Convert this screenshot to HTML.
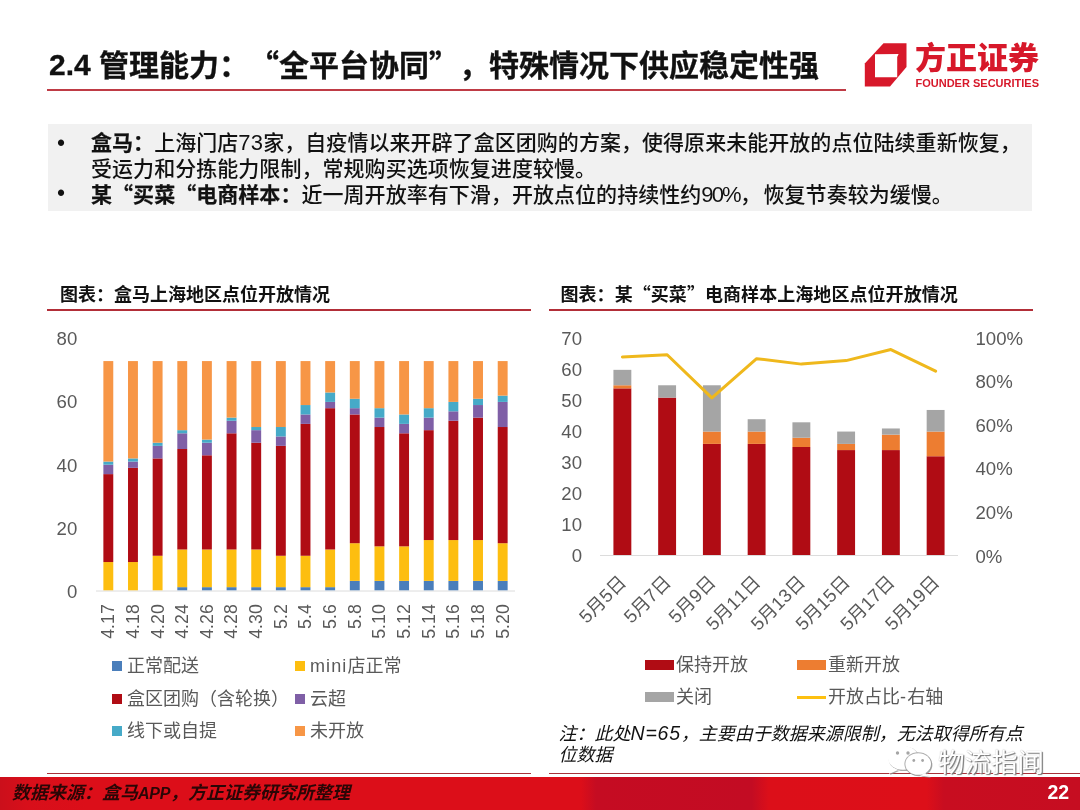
<!DOCTYPE html>
<html lang="zh-CN"><head><meta charset="utf-8"><title>2.4 管理能力</title>
<style>
html,body{margin:0;padding:0;}
body{text-spacing-trim:space-all;font-kerning:none;width:1080px;height:810px;position:relative;overflow:hidden;background:#fff;font-family:"Liberation Sans","Noto Sans CJK SC",sans-serif;color:#000;}
.abs{position:absolute;white-space:nowrap;}
.cjk{font-family:"Noto Sans CJK SC",sans-serif;display:inline-block;}
#title{left:49px;top:43px;font-size:30px;font-weight:bold;line-height:40px;color:#111;-webkit-text-stroke:0.3px #111;}
#tline{left:47px;top:89.2px;width:799.3px;height:2px;background:#bf3b45;}
#box{left:47.6px;top:124px;width:984.9px;height:86.8px;background:#f1f1f1;}
.bl{font-size:21px;line-height:25.5px;color:#111;letter-spacing:0.045px;font-weight:500;}
.bl b{font-weight:bold;-webkit-text-stroke:0.25px #111;}
.ct{font-size:18px;font-weight:bold;line-height:24px;color:#111;}
.cl{height:1.8px;background:#b22e38;}
.lg{font-size:18px;line-height:24px;color:#595959;}
.sw{position:absolute;}
svg text{font-family:"Liberation Sans","Noto Sans CJK SC",sans-serif;}
</style></head><body>
<div class="abs" id="title"><span style="position:relative;top:-1px">2.4 </span>管理能力：<span class="cjk">“</span>全平台协同<span class="cjk">”</span>，特殊情况下供应稳定性强</div>
<div class="abs" id="tline"></div>

<!-- logo -->
<svg class="abs" style="left:860px;top:38px" width="190" height="56" viewBox="860 38 190 56">
<polygon points="883.5,43.3 906.5,43.3 906.5,67 890,86.5 864.8,86.5 864.8,63.5" fill="#d7182a"/>
<polygon points="875,54.2 898.6,53.9 897.2,57 897.2,77.3 875,77.3" fill="#fff"/>
<text x="915" y="69.2" font-size="30.6" font-weight="900" fill="#d7182a" textLength="124" lengthAdjust="spacingAndGlyphs" style="font-family:'Noto Sans CJK SC',sans-serif">方正证券</text>
<text x="915.5" y="86.6" font-size="11" font-weight="bold" fill="#d7182a" textLength="123.5" lengthAdjust="spacingAndGlyphs">FOUNDER SECURITIES</text>
</svg>

<div class="abs" id="box"></div>
<div class="abs bl" style="left:56.9px;top:130.7px;font-size:23px;font-weight:400">•</div>
<div class="abs bl" style="left:91px;top:130px"><b>盒马：</b>上海门店<span style="font-size:22px;line-height:10px;letter-spacing:0.2px">73</span>家，自疫情以来开辟了盒区团购的方案，使得原来未能开放的点位陆续重新恢复，<br>受运力和分拣能力限制，常规购买选项恢复进度较慢。</div>
<div class="abs bl" style="left:56.9px;top:181.2px;font-size:23px;font-weight:400">•</div>
<div class="abs bl" style="left:91px;top:180.8px"><b>某<span class="cjk">“</span>买菜<span class="cjk">“</span>电商样本：</b>近一周开放率有下滑，开放点位的持续性约<span style="font-size:22px;line-height:10px;letter-spacing:-1.9px">90%</span><span style="margin-left:0.4px;margin-right:2.4px">，</span>恢复节奏较为缓慢。</div>

<div class="abs ct" style="left:60px;top:283.2px">图表：盒马上海地区点位开放情况</div>
<div class="abs cl" style="left:47px;top:309px;width:484px"></div>
<div class="abs ct" style="left:560.5px;top:281.2px;letter-spacing:0.06px">图表：某<span class="cjk">“</span>买菜<span class="cjk">”</span>电商样本上海地区点位开放情况</div>
<div class="abs cl" style="left:548.6px;top:309px;width:484.6px"></div>

<svg class="abs" style="left:0;top:320px" width="1080" height="340" viewBox="0 320 1080 340">
<line x1="96.0" y1="591.0" x2="515.0" y2="591.0" stroke="#dcdcdc" stroke-width="1"/>
<rect x="103.37" y="562.04" width="9.9" height="28.26" fill="#fdbe10"/>
<rect x="103.37" y="474.12" width="9.9" height="87.92" fill="#b00c14"/>
<rect x="103.37" y="464.70" width="9.9" height="9.42" fill="#7f5fa6"/>
<rect x="103.37" y="461.56" width="9.9" height="3.14" fill="#46aac8"/>
<rect x="103.37" y="361.08" width="9.9" height="100.48" fill="#f79646"/>
<text transform="translate(114.22,604.2) rotate(-90)" text-anchor="end" font-size="17.8" fill="#595959">4.17</text>
<rect x="128.02" y="562.04" width="9.9" height="28.26" fill="#fdbe10"/>
<rect x="128.02" y="467.84" width="9.9" height="94.20" fill="#b00c14"/>
<rect x="128.02" y="461.56" width="9.9" height="6.28" fill="#7f5fa6"/>
<rect x="128.02" y="458.42" width="9.9" height="3.14" fill="#46aac8"/>
<rect x="128.02" y="361.08" width="9.9" height="97.34" fill="#f79646"/>
<text transform="translate(138.87,604.2) rotate(-90)" text-anchor="end" font-size="17.8" fill="#595959">4.18</text>
<rect x="152.67" y="555.76" width="9.9" height="34.54" fill="#fdbe10"/>
<rect x="152.67" y="458.42" width="9.9" height="97.34" fill="#b00c14"/>
<rect x="152.67" y="445.86" width="9.9" height="12.56" fill="#7f5fa6"/>
<rect x="152.67" y="442.72" width="9.9" height="3.14" fill="#46aac8"/>
<rect x="152.67" y="361.08" width="9.9" height="81.64" fill="#f79646"/>
<text transform="translate(163.52,604.2) rotate(-90)" text-anchor="end" font-size="17.8" fill="#595959">4.20</text>
<rect x="177.31" y="587.16" width="9.9" height="3.14" fill="#4a7ebb"/>
<rect x="177.31" y="549.48" width="9.9" height="37.68" fill="#fdbe10"/>
<rect x="177.31" y="449.00" width="9.9" height="100.48" fill="#b00c14"/>
<rect x="177.31" y="433.30" width="9.9" height="15.70" fill="#7f5fa6"/>
<rect x="177.31" y="430.16" width="9.9" height="3.14" fill="#46aac8"/>
<rect x="177.31" y="361.08" width="9.9" height="69.08" fill="#f79646"/>
<text transform="translate(188.16,604.2) rotate(-90)" text-anchor="end" font-size="17.8" fill="#595959">4.24</text>
<rect x="201.96" y="587.16" width="9.9" height="3.14" fill="#4a7ebb"/>
<rect x="201.96" y="549.48" width="9.9" height="37.68" fill="#fdbe10"/>
<rect x="201.96" y="455.28" width="9.9" height="94.20" fill="#b00c14"/>
<rect x="201.96" y="442.72" width="9.9" height="12.56" fill="#7f5fa6"/>
<rect x="201.96" y="439.58" width="9.9" height="3.14" fill="#46aac8"/>
<rect x="201.96" y="361.08" width="9.9" height="78.50" fill="#f79646"/>
<text transform="translate(212.81,604.2) rotate(-90)" text-anchor="end" font-size="17.8" fill="#595959">4.26</text>
<rect x="226.61" y="587.16" width="9.9" height="3.14" fill="#4a7ebb"/>
<rect x="226.61" y="549.48" width="9.9" height="37.68" fill="#fdbe10"/>
<rect x="226.61" y="433.30" width="9.9" height="116.18" fill="#b00c14"/>
<rect x="226.61" y="420.74" width="9.9" height="12.56" fill="#7f5fa6"/>
<rect x="226.61" y="417.60" width="9.9" height="3.14" fill="#46aac8"/>
<rect x="226.61" y="361.08" width="9.9" height="56.52" fill="#f79646"/>
<text transform="translate(237.46,604.2) rotate(-90)" text-anchor="end" font-size="17.8" fill="#595959">4.28</text>
<rect x="251.26" y="587.16" width="9.9" height="3.14" fill="#4a7ebb"/>
<rect x="251.26" y="549.48" width="9.9" height="37.68" fill="#fdbe10"/>
<rect x="251.26" y="442.72" width="9.9" height="106.76" fill="#b00c14"/>
<rect x="251.26" y="430.16" width="9.9" height="12.56" fill="#7f5fa6"/>
<rect x="251.26" y="427.02" width="9.9" height="3.14" fill="#46aac8"/>
<rect x="251.26" y="361.08" width="9.9" height="65.94" fill="#f79646"/>
<text transform="translate(262.11,604.2) rotate(-90)" text-anchor="end" font-size="17.8" fill="#595959">4.30</text>
<rect x="275.90" y="587.16" width="9.9" height="3.14" fill="#4a7ebb"/>
<rect x="275.90" y="555.76" width="9.9" height="31.40" fill="#fdbe10"/>
<rect x="275.90" y="445.86" width="9.9" height="109.90" fill="#b00c14"/>
<rect x="275.90" y="436.44" width="9.9" height="9.42" fill="#7f5fa6"/>
<rect x="275.90" y="427.02" width="9.9" height="9.42" fill="#46aac8"/>
<rect x="275.90" y="361.08" width="9.9" height="65.94" fill="#f79646"/>
<text transform="translate(286.75,604.2) rotate(-90)" text-anchor="end" font-size="17.8" fill="#595959">5.2</text>
<rect x="300.55" y="587.16" width="9.9" height="3.14" fill="#4a7ebb"/>
<rect x="300.55" y="555.76" width="9.9" height="31.40" fill="#fdbe10"/>
<rect x="300.55" y="423.88" width="9.9" height="131.88" fill="#b00c14"/>
<rect x="300.55" y="414.46" width="9.9" height="9.42" fill="#7f5fa6"/>
<rect x="300.55" y="405.04" width="9.9" height="9.42" fill="#46aac8"/>
<rect x="300.55" y="361.08" width="9.9" height="43.96" fill="#f79646"/>
<text transform="translate(311.40,604.2) rotate(-90)" text-anchor="end" font-size="17.8" fill="#595959">5.4</text>
<rect x="325.20" y="587.16" width="9.9" height="3.14" fill="#4a7ebb"/>
<rect x="325.20" y="549.48" width="9.9" height="37.68" fill="#fdbe10"/>
<rect x="325.20" y="408.18" width="9.9" height="141.30" fill="#b00c14"/>
<rect x="325.20" y="401.90" width="9.9" height="6.28" fill="#7f5fa6"/>
<rect x="325.20" y="392.48" width="9.9" height="9.42" fill="#46aac8"/>
<rect x="325.20" y="361.08" width="9.9" height="31.40" fill="#f79646"/>
<text transform="translate(336.05,604.2) rotate(-90)" text-anchor="end" font-size="17.8" fill="#595959">5.6</text>
<rect x="349.84" y="580.88" width="9.9" height="9.42" fill="#4a7ebb"/>
<rect x="349.84" y="543.20" width="9.9" height="37.68" fill="#fdbe10"/>
<rect x="349.84" y="414.46" width="9.9" height="128.74" fill="#b00c14"/>
<rect x="349.84" y="408.18" width="9.9" height="6.28" fill="#7f5fa6"/>
<rect x="349.84" y="398.76" width="9.9" height="9.42" fill="#46aac8"/>
<rect x="349.84" y="361.08" width="9.9" height="37.68" fill="#f79646"/>
<text transform="translate(360.69,604.2) rotate(-90)" text-anchor="end" font-size="17.8" fill="#595959">5.8</text>
<rect x="374.49" y="580.88" width="9.9" height="9.42" fill="#4a7ebb"/>
<rect x="374.49" y="546.34" width="9.9" height="34.54" fill="#fdbe10"/>
<rect x="374.49" y="427.02" width="9.9" height="119.32" fill="#b00c14"/>
<rect x="374.49" y="417.60" width="9.9" height="9.42" fill="#7f5fa6"/>
<rect x="374.49" y="408.18" width="9.9" height="9.42" fill="#46aac8"/>
<rect x="374.49" y="361.08" width="9.9" height="47.10" fill="#f79646"/>
<text transform="translate(385.34,604.2) rotate(-90)" text-anchor="end" font-size="17.8" fill="#595959">5.10</text>
<rect x="399.14" y="580.88" width="9.9" height="9.42" fill="#4a7ebb"/>
<rect x="399.14" y="546.34" width="9.9" height="34.54" fill="#fdbe10"/>
<rect x="399.14" y="433.30" width="9.9" height="113.04" fill="#b00c14"/>
<rect x="399.14" y="423.88" width="9.9" height="9.42" fill="#7f5fa6"/>
<rect x="399.14" y="414.46" width="9.9" height="9.42" fill="#46aac8"/>
<rect x="399.14" y="361.08" width="9.9" height="53.38" fill="#f79646"/>
<text transform="translate(409.99,604.2) rotate(-90)" text-anchor="end" font-size="17.8" fill="#595959">5.12</text>
<rect x="423.79" y="580.88" width="9.9" height="9.42" fill="#4a7ebb"/>
<rect x="423.79" y="540.06" width="9.9" height="40.82" fill="#fdbe10"/>
<rect x="423.79" y="430.16" width="9.9" height="109.90" fill="#b00c14"/>
<rect x="423.79" y="417.60" width="9.9" height="12.56" fill="#7f5fa6"/>
<rect x="423.79" y="408.18" width="9.9" height="9.42" fill="#46aac8"/>
<rect x="423.79" y="361.08" width="9.9" height="47.10" fill="#f79646"/>
<text transform="translate(434.64,604.2) rotate(-90)" text-anchor="end" font-size="17.8" fill="#595959">5.14</text>
<rect x="448.43" y="580.88" width="9.9" height="9.42" fill="#4a7ebb"/>
<rect x="448.43" y="540.06" width="9.9" height="40.82" fill="#fdbe10"/>
<rect x="448.43" y="420.74" width="9.9" height="119.32" fill="#b00c14"/>
<rect x="448.43" y="411.32" width="9.9" height="9.42" fill="#7f5fa6"/>
<rect x="448.43" y="401.90" width="9.9" height="9.42" fill="#46aac8"/>
<rect x="448.43" y="361.08" width="9.9" height="40.82" fill="#f79646"/>
<text transform="translate(459.28,604.2) rotate(-90)" text-anchor="end" font-size="17.8" fill="#595959">5.16</text>
<rect x="473.08" y="580.88" width="9.9" height="9.42" fill="#4a7ebb"/>
<rect x="473.08" y="540.06" width="9.9" height="40.82" fill="#fdbe10"/>
<rect x="473.08" y="417.60" width="9.9" height="122.46" fill="#b00c14"/>
<rect x="473.08" y="405.04" width="9.9" height="12.56" fill="#7f5fa6"/>
<rect x="473.08" y="398.76" width="9.9" height="6.28" fill="#46aac8"/>
<rect x="473.08" y="361.08" width="9.9" height="37.68" fill="#f79646"/>
<text transform="translate(483.93,604.2) rotate(-90)" text-anchor="end" font-size="17.8" fill="#595959">5.18</text>
<rect x="497.73" y="580.88" width="9.9" height="9.42" fill="#4a7ebb"/>
<rect x="497.73" y="543.20" width="9.9" height="37.68" fill="#fdbe10"/>
<rect x="497.73" y="427.02" width="9.9" height="116.18" fill="#b00c14"/>
<rect x="497.73" y="401.90" width="9.9" height="25.12" fill="#7f5fa6"/>
<rect x="497.73" y="395.62" width="9.9" height="6.28" fill="#46aac8"/>
<rect x="497.73" y="361.08" width="9.9" height="34.54" fill="#f79646"/>
<text transform="translate(508.58,604.2) rotate(-90)" text-anchor="end" font-size="17.8" fill="#595959">5.20</text>
<text x="77.3" y="597.90" text-anchor="end" font-size="18.6" fill="#595959">0</text>
<text x="77.3" y="534.70" text-anchor="end" font-size="18.6" fill="#595959">20</text>
<text x="77.3" y="471.50" text-anchor="end" font-size="18.6" fill="#595959">40</text>
<text x="77.3" y="408.30" text-anchor="end" font-size="18.6" fill="#595959">60</text>
<text x="77.3" y="345.10" text-anchor="end" font-size="18.6" fill="#595959">80</text>
<line x1="600.0" y1="555.5" x2="958.0" y2="555.5" stroke="#dcdcdc" stroke-width="1"/>
<rect x="613.42" y="388.36" width="17.9" height="166.64" fill="#b00c14"/>
<rect x="613.42" y="385.27" width="17.9" height="3.09" fill="#ed7d31"/>
<rect x="613.42" y="369.84" width="17.9" height="15.43" fill="#a5a5a5"/>
<text transform="translate(627.38,583.5) rotate(-45)" text-anchor="end" font-size="18.5" fill="#595959">5月5日</text>
<rect x="658.17" y="397.61" width="17.9" height="157.39" fill="#b00c14"/>
<rect x="658.17" y="385.27" width="17.9" height="12.34" fill="#a5a5a5"/>
<text transform="translate(672.12,583.5) rotate(-45)" text-anchor="end" font-size="18.5" fill="#595959">5月7日</text>
<rect x="702.92" y="443.90" width="17.9" height="111.10" fill="#b00c14"/>
<rect x="702.92" y="431.56" width="17.9" height="12.34" fill="#ed7d31"/>
<rect x="702.92" y="385.27" width="17.9" height="46.29" fill="#a5a5a5"/>
<text transform="translate(716.88,583.5) rotate(-45)" text-anchor="end" font-size="18.5" fill="#595959">5月9日</text>
<rect x="747.67" y="443.90" width="17.9" height="111.10" fill="#b00c14"/>
<rect x="747.67" y="431.56" width="17.9" height="12.34" fill="#ed7d31"/>
<rect x="747.67" y="419.22" width="17.9" height="12.34" fill="#a5a5a5"/>
<text transform="translate(761.62,583.5) rotate(-45)" text-anchor="end" font-size="18.5" fill="#595959">5月11日</text>
<rect x="792.42" y="446.99" width="17.9" height="108.01" fill="#b00c14"/>
<rect x="792.42" y="437.73" width="17.9" height="9.26" fill="#ed7d31"/>
<rect x="792.42" y="422.30" width="17.9" height="15.43" fill="#a5a5a5"/>
<text transform="translate(806.38,583.5) rotate(-45)" text-anchor="end" font-size="18.5" fill="#595959">5月13日</text>
<rect x="837.17" y="450.08" width="17.9" height="104.92" fill="#b00c14"/>
<rect x="837.17" y="443.90" width="17.9" height="6.17" fill="#ed7d31"/>
<rect x="837.17" y="431.56" width="17.9" height="12.34" fill="#a5a5a5"/>
<text transform="translate(851.12,583.5) rotate(-45)" text-anchor="end" font-size="18.5" fill="#595959">5月15日</text>
<rect x="881.92" y="450.08" width="17.9" height="104.92" fill="#b00c14"/>
<rect x="881.92" y="434.65" width="17.9" height="15.43" fill="#ed7d31"/>
<rect x="881.92" y="428.47" width="17.9" height="6.17" fill="#a5a5a5"/>
<text transform="translate(895.88,583.5) rotate(-45)" text-anchor="end" font-size="18.5" fill="#595959">5月17日</text>
<rect x="926.67" y="456.25" width="17.9" height="98.75" fill="#b00c14"/>
<rect x="926.67" y="431.56" width="17.9" height="24.69" fill="#ed7d31"/>
<rect x="926.67" y="409.96" width="17.9" height="21.60" fill="#a5a5a5"/>
<text transform="translate(940.62,583.5) rotate(-45)" text-anchor="end" font-size="18.5" fill="#595959">5月19日</text>
<polyline points="622.38,357.00 667.12,354.71 711.88,397.91 756.62,358.64 801.38,364.12 846.12,360.60 890.88,349.54 935.62,371.17" fill="none" stroke="#efb81c" stroke-width="3" stroke-linejoin="round" stroke-linecap="round"/>
<text x="582" y="562.10" text-anchor="end" font-size="18.6" fill="#595959">0</text>
<text x="582" y="531.06" text-anchor="end" font-size="18.6" fill="#595959">10</text>
<text x="582" y="500.02" text-anchor="end" font-size="18.6" fill="#595959">20</text>
<text x="582" y="468.98" text-anchor="end" font-size="18.6" fill="#595959">30</text>
<text x="582" y="437.94" text-anchor="end" font-size="18.6" fill="#595959">40</text>
<text x="582" y="406.90" text-anchor="end" font-size="18.6" fill="#595959">50</text>
<text x="582" y="375.86" text-anchor="end" font-size="18.6" fill="#595959">60</text>
<text x="582" y="344.82" text-anchor="end" font-size="18.6" fill="#595959">70</text>
<text x="975.5" y="562.60" font-size="18.6" fill="#595959">0%</text>
<text x="975.5" y="519.04" font-size="18.6" fill="#595959">20%</text>
<text x="975.5" y="475.48" font-size="18.6" fill="#595959">40%</text>
<text x="975.5" y="431.92" font-size="18.6" fill="#595959">60%</text>
<text x="975.5" y="388.36" font-size="18.6" fill="#595959">80%</text>
<text x="975.5" y="344.80" font-size="18.6" fill="#595959">100%</text>
</svg>

<!-- left legend -->
<div class="sw" style="left:112px;top:661px;width:10px;height:10px;background:#4a7ebb"></div>
<div class="abs lg" style="left:127px;top:654px">正常配送</div>
<div class="sw" style="left:295px;top:661px;width:10px;height:10px;background:#fdbe10"></div>
<div class="abs lg" style="left:310px;top:654px"><span style="letter-spacing:1.1px">mini</span>店正常</div>
<div class="sw" style="left:112px;top:693.8px;width:10px;height:10px;background:#b00c14"></div>
<div class="abs lg" style="left:127px;top:686.8px">盒区团购（含轮换）</div>
<div class="sw" style="left:295px;top:693.8px;width:10px;height:10px;background:#7f5fa6"></div>
<div class="abs lg" style="left:310px;top:686.8px">云超</div>
<div class="sw" style="left:112px;top:726.3px;width:10px;height:10px;background:#46aac8"></div>
<div class="abs lg" style="left:127px;top:719.3px">线下或自提</div>
<div class="sw" style="left:295px;top:726.3px;width:10px;height:10px;background:#f79646"></div>
<div class="abs lg" style="left:310px;top:719.3px">未开放</div>

<!-- right legend -->
<div class="sw" style="left:645px;top:660px;width:29px;height:10px;background:#b00c14"></div>
<div class="abs lg" style="left:676px;top:653px">保持开放</div>
<div class="sw" style="left:797px;top:660px;width:29px;height:10px;background:#ed7d31"></div>
<div class="abs lg" style="left:828px;top:653px">重新开放</div>
<div class="sw" style="left:645px;top:692px;width:29px;height:10px;background:#a5a5a5"></div>
<div class="abs lg" style="left:676px;top:685px">关闭</div>
<div class="sw" style="left:797px;top:695.5px;width:29px;height:3px;background:#fdc010"></div>
<div class="abs lg" style="left:828px;top:685px">开放占比<span style="letter-spacing:1.2px">-</span>右轴</div>

<div class="abs" style="left:558.5px;top:723.6px;font-size:18px;line-height:21.5px;font-style:italic;color:#111;white-space:normal;width:480px">注：此处<span style="font-size:19.5px;letter-spacing:0.8px;line-height:10px">N=65</span>，主要由于数据来源限制，无法取得所有点<br>位数据</div>

<!-- footer -->
<div class="abs" style="left:47px;top:772.6px;width:484px;height:1.6px;background:#a8323a"></div>
<div class="abs" style="left:548.6px;top:772.6px;width:531.4px;height:1.6px;background:#a8323a"></div>
<div class="abs" style="left:0;top:777px;width:1080px;height:33px;background:linear-gradient(90deg,#cb0f1b 0,#d80f1a 2.5%,#dc0e19 8%,#dc0e19 53.8%,#c50c22 55.2%,#c30c23 69.6%,#dc0f19 71.2%,#dd0f19 85.8%,#c80d20 87.4%,#c60d21 100%)"></div>
<div class="abs" style="left:12px;top:781px;font-size:18px;line-height:24px;font-weight:bold;font-style:italic;color:#2a0606">数据来源：盒马<span style="font-size:16px;letter-spacing:-0.3px">APP</span>，方正证券研究所整理</div>
<div class="abs" style="left:1047.5px;top:779.8px;font-size:19.5px;line-height:24px;font-weight:bold;color:#fff">22</div>

<!-- watermark -->
<svg class="abs" style="left:880px;top:738px" width="60" height="44" viewBox="880 738 60 44">
<g fill="#8f8f8f" opacity="0.75">
<ellipse cx="904" cy="758.8" rx="15.5" ry="12.3"/>
<polygon points="893,768 890,775 899,771"/>
<ellipse cx="919.2" cy="765" rx="13.2" ry="11.3"/>
<polygon points="926,774 931,778 921,776.5"/>
</g>
<g fill="#fff">
<ellipse cx="903" cy="757.8" rx="15.2" ry="12"/>
<polygon points="892,767 889,774 898,770"/>
</g>
<ellipse cx="918.2" cy="764" rx="13.8" ry="11.8" fill="#9a9a9a" opacity="0.8"/>
<g fill="#fff">
<ellipse cx="918.2" cy="764" rx="12.8" ry="10.8"/>
<polygon points="925,773 930,777 920,775.5"/>
</g>
<g fill="#a5a5a5">
<circle cx="897.5" cy="753" r="1.7"/><circle cx="908" cy="753" r="1.7"/>
<circle cx="913.8" cy="760.5" r="1.4"/><circle cx="922.6" cy="760.5" r="1.4"/>
</g>
</svg>
<div class="abs cjk" style="left:938px;top:741px;font-size:26.5px;line-height:40px;color:#fff;text-shadow:1.2px 1.2px 1px #777,0 0 1px #aaa;letter-spacing:0px">物流指闻</div>
</body></html>
